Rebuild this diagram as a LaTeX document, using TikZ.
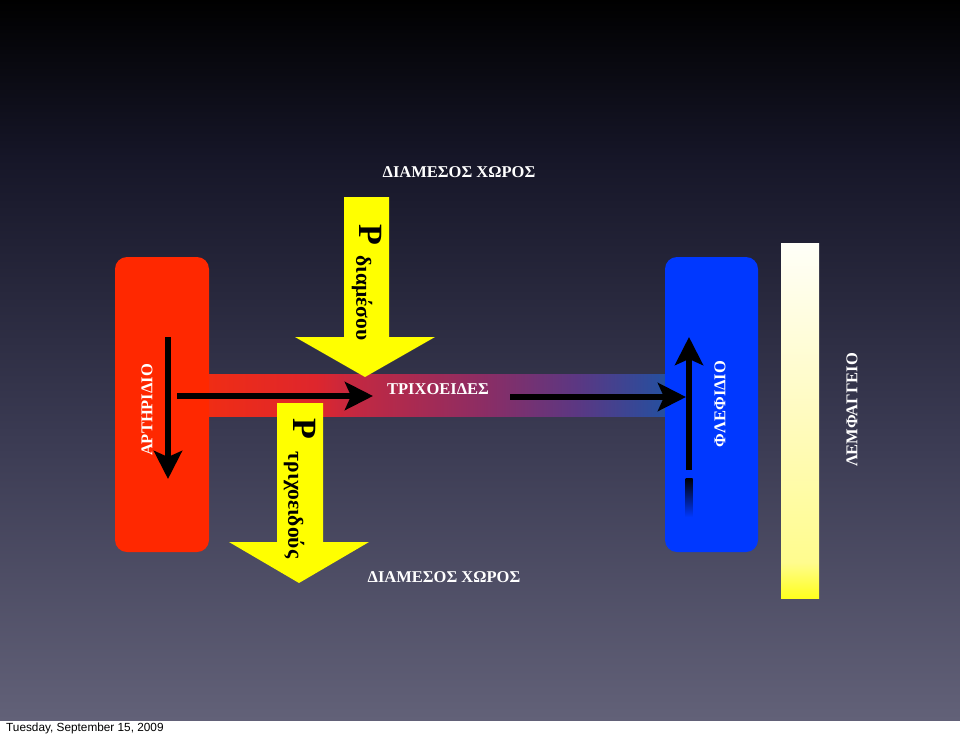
\documentclass[tikz,border=0pt]{standalone}
\usepackage{fontspec}
\setmainfont{Liberation Serif}
\newfontfamily\sansf{Liberation Sans}
\usetikzlibrary{arrows.meta}
\definecolor{bgA}{RGB}{98,97,120}
\definecolor{bgB}{RGB}{58,58,82}
\definecolor{bgC}{RGB}{22,22,40}
\definecolor{artred}{RGB}{255,40,0}
\definecolor{veinblue}{RGB}{0,56,255}
\definecolor{yel}{RGB}{255,255,0}
\definecolor{bA}{RGB}{240,45,20}
\definecolor{bB}{RGB}{222,38,45}
\definecolor{bC}{RGB}{195,40,65}
\definecolor{bD}{RGB}{140,45,100}
\definecolor{bE}{RGB}{92,55,130}
\definecolor{bF}{RGB}{35,80,160}
\definecolor{lyA}{RGB}{255,255,248}
\definecolor{lyB}{RGB}{255,251,190}
\definecolor{lyC}{RGB}{255,255,30}
% stops mapped into the 25bp..75bp window that TikZ stretches over the path
\pgfdeclareverticalshading{bgshade}{100bp}{color(0bp)=(bgA); color(25bp)=(bgA); color(45bp)=(bgB); color(64bp)=(bgC); color(75bp)=(black); color(100bp)=(black)}
\pgfdeclarehorizontalshading{bandshade}{100bp}{color(0bp)=(bA); color(25bp)=(bA); color(37bp)=(bB); color(41bp)=(bC); color(55bp)=(bD); color(65bp)=(bE); color(75bp)=(bF); color(100bp)=(bF)}
\pgfdeclareverticalshading{lymphshade}{100bp}{color(0bp)=(lyC); color(25bp)=(lyC); color(30bp)=(lyB!70!lyC); color(50bp)=(lyB); color(75bp)=(lyA); color(100bp)=(lyA)}
\pgfdeclareverticalshading{fadeshade}{100bp}{color(0bp)=(veinblue); color(25bp)=(veinblue); color(75bp)=(black); color(100bp)=(black)}
\tikzset{
  lbl/.style={text=white, font=\fontsize{16.5}{18}\selectfont\bfseries, inner sep=0pt},
  vlbl/.style={lbl, rotate=90},
  bigP/.style={text=black, font=\fontsize{34}{36}\selectfont\bfseries, inner sep=0pt, rotate=-90},
  subP/.style={text=black, font=\fontsize{21.5}{23}\selectfont\bfseries, inner sep=0pt, rotate=-90},
  blk/.style={draw=black, line width=6.5pt, -{Stealth[length=28pt,width=28pt,inset=6pt]}},
  vessel/.style={rounded corners=12pt}
}
\begin{document}
\begin{tikzpicture}[x=1pt,y=-1pt]
\useasboundingbox (0,0) rectangle (960,734);
% background
\fill[white] (0,0) rectangle (960,734);
\shade[shading=bgshade] (0,0) rectangle (960,720);
\node[anchor=base west, inner sep=0pt, font=\sansf\fontsize{11.8}{13}\selectfont] (date) at (6,731.5) {Tuesday, September 15, 2009};
% capillary band
\shade[shading=bandshade] (205,374) rectangle (668,416);
% vessels
\fill[artred, vessel] (115,257) rectangle (209,552);
\fill[veinblue, vessel] (665,257) rectangle (758,552);
\shade[shading=lymphshade] (781,243) rectangle (819,598);
% yellow pressure arrows
\fill[yel] (344,197) -- (389,197) -- (389,337) -- (435,337) -- (365,377) -- (295,337) -- (344,337) -- cycle;
\fill[yel] (277,403) -- (323,403) -- (323,542) -- (369,542) -- (299,583) -- (229,542) -- (277,542) -- cycle;
% labels
\node[lbl] (top) at (459,172) {ΔΙΑΜΕΣΟΣ ΧΩΡΟΣ};
\node[lbl] (bot) at (444,577) {ΔΙΑΜΕΣΟΣ ΧΩΡΟΣ};
\node[lbl] (cap) at (438,389) {ΤΡΙΧΟΕΙΔΕΣ};
\node[vlbl] (art) at (147,410) {ΑΡΤΗΡΙΔΙΟ};
\node[vlbl] (vein) at (720,404) {ΦΛΕΦΙΔΙΟ};
\node[vlbl] (lymph) at (852,410) {ΛΕΜΦΑΓΓΕΙΟ};
\node[bigP] (p1) at (371,235) {P};
\node[subP] (s1) at (362,298) {διαμέσου};
\node[bigP] (p2) at (305,429) {P};
\node[subP] (s2) at (294,505) {τριχοειδούς};
% black flow arrows
\coordinate (d1) at (168,337); \coordinate (d2) at (168,479);
\coordinate (h1) at (177,396); \coordinate (h2) at (373,396);
\coordinate (g1) at (510,397); \coordinate (g2) at (686,397);
\coordinate (u1) at (689,470); \coordinate (u2) at (689,337);
\draw[blk] (d1) -- (d2);
\draw[blk] (h1) -- (h2);
\draw[blk] (g1) -- (g2);
\draw[blk] (u1) -- (u2);
\shade[shading=fadeshade] (685.5,478) rectangle (692.5,517);
\end{tikzpicture}
\end{document}
